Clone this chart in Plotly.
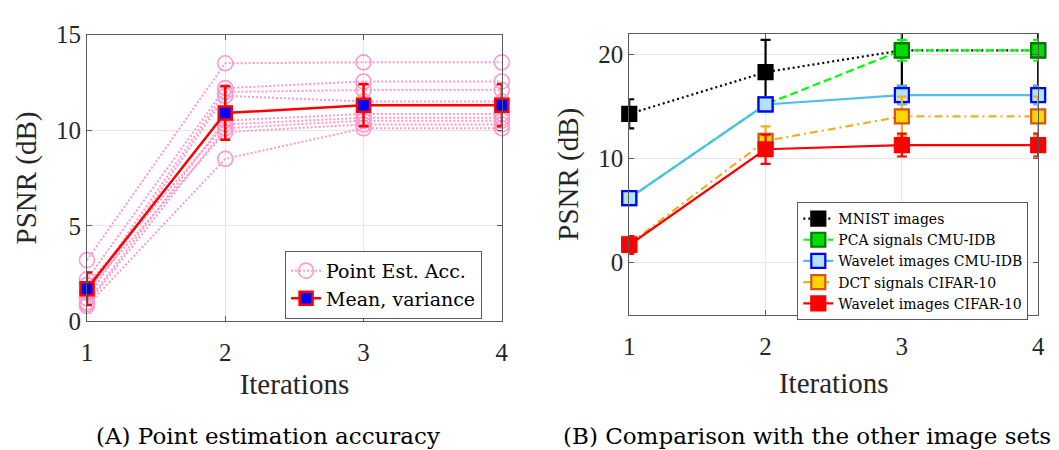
import plotly.graph_objects as go

# ---------------- data ----------------
iterations = [1, 2, 3, 4]

# (A) per-run PSNR (dB) of the point estimates
run_1 = [3.2, 13.5, 13.55, 13.55]
run_2 = [2.2, 12.2, 12.55, 12.55]
run_3 = [1.5, 12.0, 12.1, 12.1]
run_4 = [1.2, 11.8, 11.5, 11.5]
run_5 = [1.0, 10.5, 10.85, 10.85]
run_6 = [1.9, 10.3, 10.65, 10.65]
run_7 = [0.9, 10.1, 10.5, 10.5]
run_8 = [1.6, 9.9, 10.3, 10.3]
run_9 = [0.8, 8.5, 10.1, 10.1]
runs = [run_1, run_2, run_3, run_4, run_5, run_6, run_7, run_8, run_9]

mean_psnr = [1.7, 10.9, 11.3, 11.3]
mean_err = [0.85, 1.4, 1.1, 1.1]

# (B) PSNR (dB) for the other image sets
mnist = [14.3, 18.3, 20.4, 20.4]
mnist_err = [1.4, 3.1, 3.4, 3.4]
pca_cmu = [6.2, 15.2, 20.4, 20.4]
pca_cmu_err = [0.3, 0.7, 1.0, 1.0]
wav_cmu = [6.2, 15.2, 16.1, 16.1]
wav_cmu_err = [0.3, 0.7, 0.9, 0.9]
dct_cifar = [1.8, 11.7, 14.05, 14.05]
dct_cifar_err = [0.5, 1.4, 1.9, 1.9]
wav_cifar = [1.7, 10.9, 11.3, 11.3]
wav_cifar_err = [0.85, 1.4, 1.1, 1.1]

left_yticks = [0, 5, 10, 15]
right_yticks = [0, 10, 20]

# ---------------- styling ----------------
FONT = "Liberation Serif"
WIDE = "DejaVu Serif"
TXT = "#262626"
AXC = "#5a5a5a"
GRID = "#e6e6e6"
PINK = "#ff99cc"

W, H = 1059, 450

fig = go.Figure()

# (A) individual runs
for i, r in enumerate(runs):
    fig.add_trace(go.Scatter(
        x=iterations, y=r, mode="lines+markers",
        line=dict(color=PINK, width=2, dash="2px,2px"),
        marker=dict(symbol="circle-open", size=15, color=PINK, line=dict(width=1.6)),
        name="Point Est. Acc.", legendgroup="runs", showlegend=(i == 0),
        legend="legend", xaxis="x", yaxis="y", cliponaxis=False,
    ))

# (A) mean with error bars
fig.add_trace(go.Scatter(
    x=iterations, y=mean_psnr, mode="lines+markers",
    line=dict(color="#ff0000", width=2.5),
    marker=dict(symbol="square", size=13, color="#0000ff",
                line=dict(color="#ff0000", width=2.5)),
    error_y=dict(type="data", array=mean_err, color="#ff0000", thickness=2.5, width=5),
    name="Mean, variance", legend="legend", xaxis="x", yaxis="y", cliponaxis=False,
))

# (B) image set comparison
series_b = [
    dict(name="MNIST images", y=mnist, e=mnist_err, lc="#000000", dash="2px,3px",
         mf="#000000", ml="#000000", ec="#000000"),
    dict(name="PCA signals CMU-IDB", y=pca_cmu, e=pca_cmu_err, lc="#00ff00", dash="8px,4px",
         mf="#00dd00", ml="#007a00", ec="#00ff00"),
    dict(name="Wavelet images CMU-IDB", y=wav_cmu, e=wav_cmu_err, lc="#4dbeee", dash="solid",
         mf="#b3e3fa", ml="#0000ff", ec="#4dbeee"),
    dict(name="DCT signals CIFAR-10", y=dct_cifar, e=dct_cifar_err, lc="#edb120", dash="8px,4px,2px,4px",
         mf="#ffd700", ml="#d95319", ec="#edb120"),
    dict(name="Wavelet images CIFAR-10", y=wav_cifar, e=wav_cifar_err, lc="#ff0000", dash="solid",
         mf="#ff0000", ml="#ff0000", ec="#ff0000"),
]
for s in series_b:
    fig.add_trace(go.Scatter(
        x=iterations, y=s["y"], mode="lines+markers",
        line=dict(color=s["lc"], width=2.2, dash=s["dash"]),
        marker=dict(symbol="square", size=14, color=s["mf"], line=dict(color=s["ml"], width=2.2)),
        error_y=dict(type="data", array=s["e"], color=s["ec"], thickness=2.2, width=5),
        name=s["name"], legend="legend2", xaxis="x2", yaxis="y2", cliponaxis=False,
    ))


def px_dom_x(a, b):
    return [a / W, b / W]


def px_dom_y(top, bottom):
    return [1 - bottom / H, 1 - top / H]


axis_common = dict(
    showline=True, linecolor=AXC, linewidth=1.2, mirror="ticks",
    ticks="inside", ticklen=5, tickcolor=AXC, tickwidth=1,
    showgrid=True, gridcolor=GRID, gridwidth=1, zeroline=False,
    tickfont=dict(family=FONT, size=25, color=TXT),
)
title_font = dict(family=FONT, size=29, color=TXT)

fig.update_layout(
    width=W, height=H,
    margin=dict(l=0, r=0, t=0, b=0),
    paper_bgcolor="white", plot_bgcolor="white",
    font=dict(family=FONT, color=TXT),
    xaxis=dict(domain=px_dom_x(82, 502), range=[1, 4], tickvals=iterations,
               ticklabelstandoff=9,
               title=dict(text="Iterations", font=title_font, standoff=8),
               anchor="y", **axis_common),
    yaxis=dict(domain=px_dom_y(23, 328), range=[0, 15], tickvals=left_yticks,
               title=dict(text="PSNR (dB)", font=title_font, standoff=10),
               anchor="x", **axis_common),
    xaxis2=dict(domain=px_dom_x(631, 1045), range=[1, 4], tickvals=iterations,
                ticklabelstandoff=9,
                title=dict(text="Iterations", font=title_font, standoff=13),
                anchor="y2", **axis_common),
    yaxis2=dict(domain=px_dom_y(22, 321), range=[-5, 22], tickvals=right_yticks,
                title=dict(text="PSNR (dB)", font=title_font, standoff=10),
                anchor="x2", **axis_common),
    legend=dict(x=482 / W, xanchor="right", y=1 - 253 / H, yanchor="top",
                bgcolor="white", bordercolor=AXC, borderwidth=1,
                font=dict(family=WIDE, size=19, color="#000000"),
                tracegroupgap=0, itemwidth=30),
    legend2=dict(x=1035 / W, xanchor="right", y=1 - 201 / H, yanchor="top",
                 bgcolor="white", bordercolor=AXC, borderwidth=1,
                 font=dict(family=WIDE, size=14, color="#000000"),
                 tracegroupgap=0, itemwidth=30),
    annotations=[
        dict(text="(A) Point estimation accuracy", x=265 / W, y=0,
             xref="paper", yref="paper", showarrow=False, xanchor="center", yanchor="bottom",
             yshift=-15, font=dict(family=WIDE, size=23, color="#000000")),
        dict(text="(B) Comparison with the other image sets", x=811 / W, y=0,
             xref="paper", yref="paper", showarrow=False, xanchor="center", yanchor="bottom",
             yshift=-15, font=dict(family=WIDE, size=23, color="#000000")),
    ],
)

fig.write_html("out.html")
